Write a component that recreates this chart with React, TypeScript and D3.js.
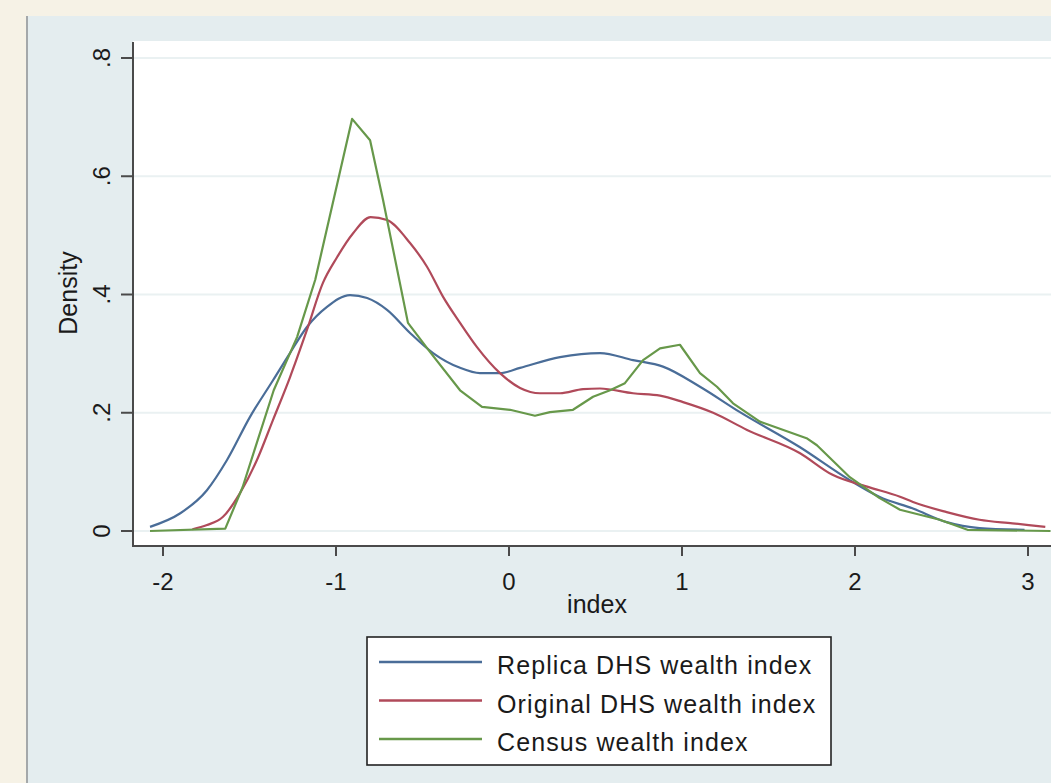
import React from 'react';
import * as d3 from 'd3';

// kernel density estimates: [index, density]
const replica: [number, number][] = [
  [-2.075, 0.007], [-1.9, 0.03], [-1.746, 0.069], [-1.63, 0.12], [-1.497, 0.193],
  [-1.364, 0.255], [-1.266, 0.301], [-1.168, 0.345], [-1.052, 0.379], [-0.919, 0.399],
  [-0.82, 0.394], [-0.705, 0.374], [-0.572, 0.335], [-0.439, 0.301], [-0.283, 0.276],
  [-0.168, 0.267], [-0.052, 0.267], [0.064, 0.276], [0.295, 0.294], [0.526, 0.301],
  [0.717, 0.289], [0.89, 0.278], [1.104, 0.244], [1.335, 0.201], [1.68, 0.142],
  [1.97, 0.086], [2.14, 0.058], [2.335, 0.038], [2.53, 0.015], [2.72, 0.005], [2.98, 0.002],
];

const original: [number, number][] = [
  [-1.83, 0.003], [-1.746, 0.01], [-1.653, 0.024], [-1.555, 0.064], [-1.457, 0.12],
  [-1.364, 0.188], [-1.266, 0.26], [-1.168, 0.34], [-1.075, 0.42], [-0.994, 0.463],
  [-0.9, 0.504], [-0.8, 0.531], [-0.705, 0.526], [-0.572, 0.487], [-0.474, 0.447],
  [-0.381, 0.396], [-0.283, 0.352], [-0.185, 0.311], [-0.052, 0.267], [0.064, 0.242],
  [0.179, 0.233], [0.295, 0.233], [0.428, 0.24], [0.526, 0.241], [0.717, 0.233],
  [0.873, 0.229], [1.006, 0.218], [1.18, 0.2], [1.376, 0.171], [1.68, 0.132],
  [1.87, 0.095], [2.07, 0.075], [2.26, 0.058], [2.335, 0.049], [2.53, 0.032],
  [2.72, 0.019], [2.91, 0.013], [3.1, 0.007],
];

const census: [number, number][] = [
  [-2.075, 0], [-1.64, 0.004], [-1.54, 0.074], [-1.36, 0.238], [-1.225, 0.328],
  [-1.12, 0.425], [-0.907, 0.697], [-0.803, 0.661], [-0.728, 0.56], [-0.584, 0.352],
  [-0.457, 0.303], [-0.283, 0.238], [-0.156, 0.21], [0.006, 0.205], [0.15, 0.195],
  [0.237, 0.201], [0.37, 0.205], [0.486, 0.227], [0.584, 0.238], [0.67, 0.25],
  [0.775, 0.289], [0.873, 0.309], [0.988, 0.315], [1.104, 0.267], [1.202, 0.244],
  [1.295, 0.216], [1.45, 0.185], [1.72, 0.157], [1.78, 0.145], [1.97, 0.091],
  [2.14, 0.056], [2.26, 0.036], [2.49, 0.019], [2.65, 0.002], [3.13, 0],
];

const xTicks = [-2, -1, 0, 1, 2, 3];
const yTicks = [0, 0.2, 0.4, 0.6, 0.8];
const yTickLabels = ['0', '.2', '.4', '.6', '.8'];

const series = [
  { name: 'Replica DHS wealth index', data: replica, color: '#4a6d98', smooth: true },
  { name: 'Original DHS wealth index', data: original, color: '#b04a5a', smooth: true },
  { name: 'Census wealth index', data: census, color: '#67984a', smooth: false },
];

const W = 1051;
const H = 783;
const font = 'Arial, "Liberation Sans", sans-serif';

export default function App() {
  const x = d3.scaleLinear().domain([-2, 3]).range([163, 1028]);
  const y = d3.scaleLinear().domain([0, 0.8]).range([531, 58]);
  const plotLeft = 133;
  const plotTop = 41;
  const plotBottom = 546;

  const lineFor = (smooth: boolean) =>
    d3.line<[number, number]>()
      .x(d => x(d[0]))
      .y(d => y(d[1]))
      .curve(smooth ? d3.curveMonotoneX : d3.curveLinear);

  return (
    <div style={{ position: 'fixed', left: 0, top: 0 }}>
      <svg width={W} height={H} style={{ display: 'block' }}>
        <rect x={0} y={0} width={W} height={H} fill="#f6f2e6" />
        <rect x={26} y={16} width={W - 26} height={H - 16} fill="#e4edef" />
        <line x1={27} y1={16} x2={27} y2={H} stroke="#a4a8aa" strokeWidth={2} />

        {/* plot region */}
        <rect x={plotLeft} y={plotTop} width={W - plotLeft} height={plotBottom - plotTop} fill="#ffffff" />
        {yTicks.map(t => (
          <line key={t} x1={plotLeft} x2={W} y1={y(t)} y2={y(t)} stroke="#eaf1f2" strokeWidth={2} />
        ))}

        {series.map(s => (
          <path key={s.name} d={lineFor(s.smooth)(s.data) || ''} fill="none"
            stroke={s.color} strokeWidth={2.2} strokeLinejoin="round" />
        ))}

        {/* axes */}
        <line x1={plotLeft} x2={plotLeft} y1={plotTop + 1} y2={plotBottom + 1} stroke="#4a4a4a" strokeWidth={2} />
        <line x1={plotLeft} x2={W} y1={plotBottom} y2={plotBottom} stroke="#4a4a4a" strokeWidth={2} />
        {yTicks.map((t, i) => (
          <g key={t}>
            <line x1={plotLeft - 12} x2={plotLeft} y1={y(t)} y2={y(t)} stroke="#4a4a4a" strokeWidth={2} />
            <text transform={`translate(110,${y(t)}) rotate(-90)`} textAnchor="middle"
              fontFamily={font} fontSize={24} fill="#1a1a1a">{yTickLabels[i]}</text>
          </g>
        ))}
        {xTicks.map(t => (
          <g key={t}>
            <line x1={x(t)} x2={x(t)} y1={plotBottom} y2={plotBottom + 10} stroke="#4a4a4a" strokeWidth={2} />
            <text x={x(t)} y={590} textAnchor="middle" fontFamily={font} fontSize={24} fill="#1a1a1a">{t}</text>
          </g>
        ))}
        <text x={597} y={613} textAnchor="middle" fontFamily={font} fontSize={25} fill="#1a1a1a">index</text>
        <text transform={`translate(77,293) rotate(-90)`} textAnchor="middle"
          fontFamily={font} fontSize={25} fill="#1a1a1a">Density</text>

        {/* legend */}
        <rect x={367} y={637} width={464} height={128} fill="#ffffff" stroke="#222" strokeWidth={1.6} />
        {series.map((s, i) => {
          const ly = 662 + i * 38.5;
          return (
            <g key={s.name}>
              <line x1={379} x2={482} y1={ly} y2={ly} stroke={s.color} strokeWidth={2.5} />
              <text x={497} y={ly + 12} fontFamily={font} fontSize={25} letterSpacing={1.1}
                fill="#1a1a1a">{s.name}</text>
            </g>
          );
        })}
      </svg>
    </div>
  );
}
